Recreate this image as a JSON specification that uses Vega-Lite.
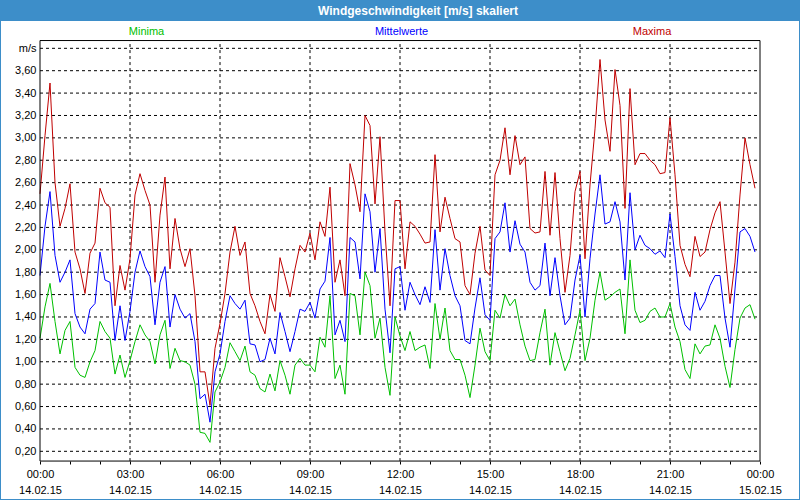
{
  "$schema": "https://vega.github.io/schema/vega-lite/v6.json",
  "width": 798,
  "height": 478,
  "autosize": {"type": "none"},
  "padding": {"top": 21, "left": 1, "right": 1, "bottom": 1},
  "background": "#3d8ec9",
  "config": {"view": {"fill": "white", "stroke": null}, "font": "Liberation Sans"},
  "resolve": {"axis": {"x": "independent", "y": "independent"}},
  "datasets": {
    "main": [
      {"t":0,"mn":1.21,"mw":1.77,"mx":2.50},{"t":10,"mn":1.49,"mw":2.21,"mx":3.02},{"t":20,"mn":1.70,"mw":2.52,"mx":3.49},{"t":30,"mn":1.36,"mw":1.95,"mx":2.60},
      {"t":40,"mn":1.07,"mw":1.71,"mx":2.21},{"t":50,"mn":1.28,"mw":1.80,"mx":2.37},{"t":60,"mn":1.36,"mw":1.91,"mx":2.59},{"t":70,"mn":0.95,"mw":1.43,"mx":1.98},
      {"t":80,"mn":0.88,"mw":1.31,"mx":1.83},{"t":90,"mn":0.86,"mw":1.25,"mx":1.61},{"t":100,"mn":1.00,"mw":1.47,"mx":1.97},{"t":110,"mn":1.10,"mw":1.52,"mx":2.06},
      {"t":120,"mn":1.36,"mw":1.98,"mx":2.55},{"t":130,"mn":1.27,"mw":1.73,"mx":2.42},{"t":140,"mn":1.21,"mw":1.71,"mx":2.38},{"t":150,"mn":0.89,"mw":1.19,"mx":1.50},
      {"t":160,"mn":1.06,"mw":1.50,"mx":1.86},{"t":170,"mn":0.86,"mw":1.19,"mx":1.64},{"t":180,"mn":1.01,"mw":1.45,"mx":1.92},{"t":190,"mn":1.18,"mw":1.80,"mx":2.49},
      {"t":200,"mn":1.33,"mw":1.99,"mx":2.68},{"t":210,"mn":1.24,"mw":1.85,"mx":2.53},{"t":220,"mn":1.18,"mw":1.76,"mx":2.40},{"t":230,"mn":0.98,"mw":1.33,"mx":1.71},
      {"t":240,"mn":1.24,"mw":1.71,"mx":2.31},{"t":250,"mn":1.37,"mw":1.85,"mx":2.65},{"t":260,"mn":0.94,"mw":1.31,"mx":1.83},{"t":270,"mn":1.12,"mw":1.60,"mx":2.28},
      {"t":280,"mn":1.01,"mw":1.47,"mx":2.01},{"t":290,"mn":1.00,"mw":1.39,"mx":1.85},{"t":300,"mn":0.97,"mw":1.43,"mx":2.01},{"t":310,"mn":0.80,"mw":1.18,"mx":1.59},
      {"t":320,"mn":0.37,"mw":0.67,"mx":0.91},{"t":330,"mn":0.36,"mw":0.71,"mx":0.91},{"t":340,"mn":0.28,"mw":0.46,"mx":0.61},{"t":350,"mn":0.73,"mw":0.91,"mx":1.12},
      {"t":360,"mn":0.82,"mw":1.07,"mx":1.34},{"t":370,"mn":0.95,"mw":1.36,"mx":1.61},{"t":380,"mn":1.17,"mw":1.59,"mx":1.98},{"t":390,"mn":1.09,"mw":1.52,"mx":2.21},
      {"t":400,"mn":1.01,"mw":1.47,"mx":1.95},{"t":410,"mn":1.14,"mw":1.55,"mx":2.07},{"t":420,"mn":0.91,"mw":1.16,"mx":1.61},{"t":430,"mn":0.88,"mw":1.15,"mx":1.50},
      {"t":440,"mn":0.76,"mw":1.00,"mx":1.36},{"t":450,"mn":0.73,"mw":1.02,"mx":1.25},{"t":460,"mn":0.89,"mw":1.21,"mx":1.60},{"t":470,"mn":0.74,"mw":1.07,"mx":1.45},
      {"t":480,"mn":1.01,"mw":1.44,"mx":1.93},{"t":490,"mn":0.88,"mw":1.27,"mx":1.76},{"t":500,"mn":0.71,"mw":1.09,"mx":1.58},{"t":510,"mn":0.97,"mw":1.27,"mx":1.83},
      {"t":520,"mn":1.03,"mw":1.47,"mx":2.04},{"t":530,"mn":0.97,"mw":1.45,"mx":1.98},{"t":540,"mn":0.97,"mw":1.53,"mx":2.15},{"t":550,"mn":0.91,"mw":1.39,"mx":1.91},
      {"t":560,"mn":1.22,"mw":1.65,"mx":2.25},{"t":570,"mn":1.13,"mw":1.72,"mx":2.12},{"t":580,"mn":1.59,"mw":2.11,"mx":2.56},{"t":590,"mn":0.85,"mw":1.24,"mx":1.71},
      {"t":600,"mn":0.97,"mw":1.37,"mx":1.91},{"t":610,"mn":0.71,"mw":1.18,"mx":1.59},{"t":620,"mn":1.61,"mw":2.11,"mx":2.77},{"t":630,"mn":1.59,"mw":2.07,"mx":2.58},
      {"t":640,"mn":1.24,"mw":1.74,"mx":2.34},{"t":650,"mn":1.80,"mw":2.50,"mx":3.20},{"t":660,"mn":1.68,"mw":2.34,"mx":3.11},{"t":670,"mn":1.21,"mw":1.80,"mx":2.41},
      {"t":680,"mn":1.39,"mw":2.19,"mx":3.01},{"t":690,"mn":0.95,"mw":1.47,"mx":2.16},{"t":700,"mn":0.70,"mw":1.08,"mx":1.50},{"t":710,"mn":1.40,"mw":1.83,"mx":2.44},
      {"t":720,"mn":1.23,"mw":1.85,"mx":2.44},{"t":730,"mn":1.10,"mw":1.46,"mx":1.83},{"t":740,"mn":1.27,"mw":1.71,"mx":2.25},{"t":750,"mn":1.10,"mw":1.60,"mx":2.21},
      {"t":760,"mn":1.13,"mw":1.51,"mx":2.14},{"t":770,"mn":1.15,"mw":1.67,"mx":2.06},{"t":780,"mn":0.94,"mw":1.53,"mx":2.07},{"t":790,"mn":1.52,"mw":2.18,"mx":2.85},
      {"t":800,"mn":1.20,"mw":1.64,"mx":2.16},{"t":810,"mn":1.48,"mw":2.01,"mx":2.47},{"t":820,"mn":1.10,"mw":1.77,"mx":2.28},{"t":830,"mn":1.02,"mw":1.59,"mx":2.10},
      {"t":840,"mn":1.02,"mw":1.50,"mx":2.07},{"t":850,"mn":0.88,"mw":1.19,"mx":1.68},{"t":860,"mn":0.68,"mw":1.16,"mx":1.60},{"t":870,"mn":0.97,"mw":1.48,"mx":1.97},
      {"t":880,"mn":1.30,"mw":1.75,"mx":2.21},{"t":890,"mn":1.09,"mw":1.42,"mx":1.82},{"t":900,"mn":1.01,"mw":1.37,"mx":1.77},{"t":910,"mn":1.46,"mw":2.10,"mx":2.67},
      {"t":920,"mn":1.39,"mw":2.16,"mx":2.80},{"t":930,"mn":1.60,"mw":2.42,"mx":3.09},{"t":940,"mn":1.50,"mw":1.98,"mx":2.67},{"t":950,"mn":1.56,"mw":2.26,"mx":3.02},
      {"t":960,"mn":1.33,"mw":2.05,"mx":2.76},{"t":970,"mn":1.14,"mw":1.98,"mx":2.83},{"t":980,"mn":1.01,"mw":1.71,"mx":2.19},{"t":990,"mn":1.02,"mw":1.64,"mx":2.15},
      {"t":1000,"mn":1.26,"mw":1.68,"mx":2.16},{"t":1010,"mn":1.47,"mw":2.06,"mx":2.70},{"t":1020,"mn":0.97,"mw":1.59,"mx":2.13},{"t":1030,"mn":1.26,"mw":1.93,"mx":2.69},
      {"t":1040,"mn":1.09,"mw":1.59,"mx":2.10},{"t":1050,"mn":0.92,"mw":1.33,"mx":1.62},{"t":1060,"mn":1.03,"mw":1.39,"mx":1.95},{"t":1070,"mn":1.24,"mw":1.73,"mx":2.52},
      {"t":1080,"mn":1.46,"mw":1.95,"mx":2.70},{"t":1090,"mn":1.01,"mw":1.40,"mx":1.92},{"t":1100,"mn":1.21,"mw":1.92,"mx":2.58},{"t":1110,"mn":1.55,"mw":2.32,"mx":3.08},
      {"t":1120,"mn":1.80,"mw":2.67,"mx":3.70},{"t":1130,"mn":1.55,"mw":2.23,"mx":3.16},{"t":1140,"mn":1.58,"mw":2.25,"mx":2.88},{"t":1150,"mn":1.62,"mw":2.43,"mx":3.61},
      {"t":1160,"mn":1.65,"mw":2.25,"mx":3.29},{"t":1170,"mn":1.25,"mw":1.73,"mx":2.37},{"t":1180,"mn":1.91,"mw":2.51,"mx":3.44},{"t":1190,"mn":1.46,"mw":2.00,"mx":2.76},
      {"t":1200,"mn":1.35,"mw":2.13,"mx":2.86},{"t":1210,"mn":1.37,"mw":2.04,"mx":2.86},{"t":1220,"mn":1.45,"mw":2.01,"mx":2.80},{"t":1230,"mn":1.48,"mw":1.96,"mx":2.76},
      {"t":1240,"mn":1.40,"mw":1.99,"mx":2.68},{"t":1250,"mn":1.40,"mw":1.93,"mx":2.69},{"t":1260,"mn":1.52,"mw":2.32,"mx":3.18},{"t":1270,"mn":1.31,"mw":1.94,"mx":2.67},
      {"t":1280,"mn":1.18,"mw":1.50,"mx":2.04},{"t":1290,"mn":0.93,"mw":1.33,"mx":1.87},{"t":1300,"mn":0.85,"mw":1.28,"mx":1.76},{"t":1310,"mn":1.16,"mw":1.62,"mx":2.12},
      {"t":1320,"mn":1.07,"mw":1.46,"mx":1.94},{"t":1330,"mn":1.14,"mw":1.54,"mx":1.98},{"t":1340,"mn":1.15,"mw":1.68,"mx":2.18},{"t":1350,"mn":1.33,"mw":1.77,"mx":2.33},
      {"t":1360,"mn":1.21,"mw":1.77,"mx":2.43},{"t":1370,"mn":0.96,"mw":1.39,"mx":1.98},{"t":1380,"mn":0.77,"mw":1.13,"mx":1.52},{"t":1390,"mn":1.11,"mw":1.65,"mx":1.89},
      {"t":1400,"mn":1.39,"mw":2.16,"mx":2.49},{"t":1410,"mn":1.48,"mw":2.19,"mx":3.00},{"t":1420,"mn":1.51,"mw":2.12,"mx":2.76},{"t":1430,"mn":1.38,"mw":1.98,"mx":2.55}
    ]
  },
  "layer": [
    {
      "data": {"values": [{"v":0.2},{"v":0.4},{"v":0.6},{"v":0.8},{"v":1.0},{"v":1.2},{"v":1.4},{"v":1.6},{"v":1.8},{"v":2.0},{"v":2.2},{"v":2.4},{"v":2.6},{"v":2.8},{"v":3.0},{"v":3.2},{"v":3.4},{"v":3.6},{"v":3.8}]},
      "mark": {"type": "rule", "color": "black", "strokeWidth": 1, "strokeDash": [3, 3]},
      "encoding": {
        "y": {"field": "v", "type": "quantitative", "scale": {"domain": [-0.226, 4.044], "nice": false, "zero": false}, "axis": null},
        "x": {"datum": 0, "type": "quantitative", "scale": {"domain": [-78, 1518], "nice": false, "zero": false}, "axis": null},
        "x2": {"datum": 1440}
      }
    },
    {
      "data": {"values": [{"t":180},{"t":360},{"t":540},{"t":720},{"t":900},{"t":1080},{"t":1260}]},
      "mark": {"type": "rule", "color": "black", "strokeWidth": 1, "strokeDash": [3, 3]},
      "encoding": {
        "x": {"field": "t", "type": "quantitative", "scale": {"domain": [-78, 1518], "nice": false, "zero": false}, "axis": null},
        "y": {"datum": 0.113, "type": "quantitative", "scale": {"domain": [-0.226, 4.044], "nice": false, "zero": false}, "axis": null},
        "y2": {"datum": 3.8695}
      }
    },
    {
      "data": {"name": "main"},
      "transform": [{"fold": ["mn", "mw", "mx"], "as": ["s", "v"]}],
      "mark": {"type": "line", "strokeWidth": 1},
      "encoding": {
        "x": {
          "field": "t", "type": "quantitative",
          "scale": {"domain": [-78, 1518], "nice": false, "zero": false},
          "axis": {
            "orient": "bottom", "offset": -38, "title": null, "grid": false, "domain": false,
            "values": [0,60,120,180,240,300,360,420,480,540,600,660,720,780,840,900,960,1020,1080,1140,1200,1260,1320,1380,1440],
            "ticks": true, "tickSize": 3, "tickColor": "black", "tickWidth": 1,
            "labelExpr": "datum.value % 180 == 0 ? [(datum.value == 1440 ? '00' : (datum.value < 600 ? '0' : '') + (datum.value / 60)) + ':00', datum.value == 1440 ? '15.02.15' : '14.02.15'] : ''",
            "labelFont": "Liberation Sans", "labelFontSize": 11, "labelColor": "black",
            "labelPadding": 4, "labelLineHeight": 16, "labelBaseline": "top", "labelAlign": "center",
            "labelOverlap": false, "labelFlush": false, "labelBound": false
          }
        },
        "y": {
          "field": "v", "type": "quantitative",
          "scale": {"domain": [-0.226, 4.044], "nice": false, "zero": false},
          "axis": {
            "orient": "left", "offset": -39, "title": null, "grid": false, "domain": false, "ticks": false,
            "values": [0.2,0.4,0.6,0.8,1.0,1.2,1.4,1.6,1.8,2.0,2.2,2.4,2.6,2.8,3.0,3.2,3.4,3.6,3.8],
            "labelExpr": "datum.value > 3.7 ? 'm/s' : replace(format(datum.value, '.2f'), '.', ',')",
            "labelFont": "Liberation Sans", "labelFontSize": 11, "labelColor": "black",
            "labelPadding": 4, "labelAlign": "right", "labelBaseline": "middle",
            "labelOverlap": false, "labelFlush": false, "labelBound": false
          }
        },
        "color": {"field": "s", "type": "nominal", "scale": {"domain": ["mn", "mw", "mx"], "range": ["#00c000", "#0000ff", "#c00000"]}, "legend": null}
      }
    },
    {
      "data": {"values": [{}]},
      "mark": {"type": "rect", "filled": false, "color": "black", "strokeWidth": 1},
      "encoding": {
        "x": {"datum": 0, "type": "quantitative", "scale": {"domain": [-78, 1518], "nice": false, "zero": false}, "axis": null},
        "x2": {"datum": 1440},
        "y": {"datum": 0.113, "type": "quantitative", "scale": {"domain": [-0.226, 4.044], "nice": false, "zero": false}, "axis": null},
        "y2": {"datum": 3.8695}
      }
    },
    {
      "data": {"values": [{}]},
      "mark": {"type": "text", "text": "Minima", "color": "#00c000", "font": "Liberation Sans", "fontSize": 11, "align": "center", "baseline": "middle"},
      "encoding": {
        "x": {"datum": 213, "type": "quantitative", "scale": {"domain": [-78, 1518], "nice": false, "zero": false}, "axis": null},
        "y": {"datum": 3.943, "type": "quantitative", "scale": {"domain": [-0.226, 4.044], "nice": false, "zero": false}, "axis": null}
      }
    },
    {
      "data": {"values": [{}]},
      "mark": {"type": "text", "text": "Mittelwerte", "color": "#0000ff", "font": "Liberation Sans", "fontSize": 11, "align": "center", "baseline": "middle"},
      "encoding": {
        "x": {"datum": 723, "type": "quantitative", "scale": {"domain": [-78, 1518], "nice": false, "zero": false}, "axis": null},
        "y": {"datum": 3.943, "type": "quantitative", "scale": {"domain": [-0.226, 4.044], "nice": false, "zero": false}, "axis": null}
      }
    },
    {
      "data": {"values": [{}]},
      "mark": {"type": "text", "text": "Maxima", "color": "#c00000", "font": "Liberation Sans", "fontSize": 11, "align": "center", "baseline": "middle"},
      "encoding": {
        "x": {"datum": 1224, "type": "quantitative", "scale": {"domain": [-78, 1518], "nice": false, "zero": false}, "axis": null},
        "y": {"datum": 3.943, "type": "quantitative", "scale": {"domain": [-0.226, 4.044], "nice": false, "zero": false}, "axis": null}
      }
    },
    {
      "data": {"values": [{}]},
      "mark": {"type": "text", "text": "Windgeschwindigkeit [m/s] skaliert", "color": "white", "font": "Liberation Sans", "fontSize": 12, "fontWeight": "bold", "align": "center", "baseline": "middle"},
      "encoding": {
        "x": {"datum": 756, "type": "quantitative", "scale": {"domain": [-78, 1518], "nice": false, "zero": false}, "axis": null},
        "y": {"datum": 4.1375, "type": "quantitative", "scale": {"domain": [-0.226, 4.044], "nice": false, "zero": false}, "axis": null}
      }
    }
  ]
}
